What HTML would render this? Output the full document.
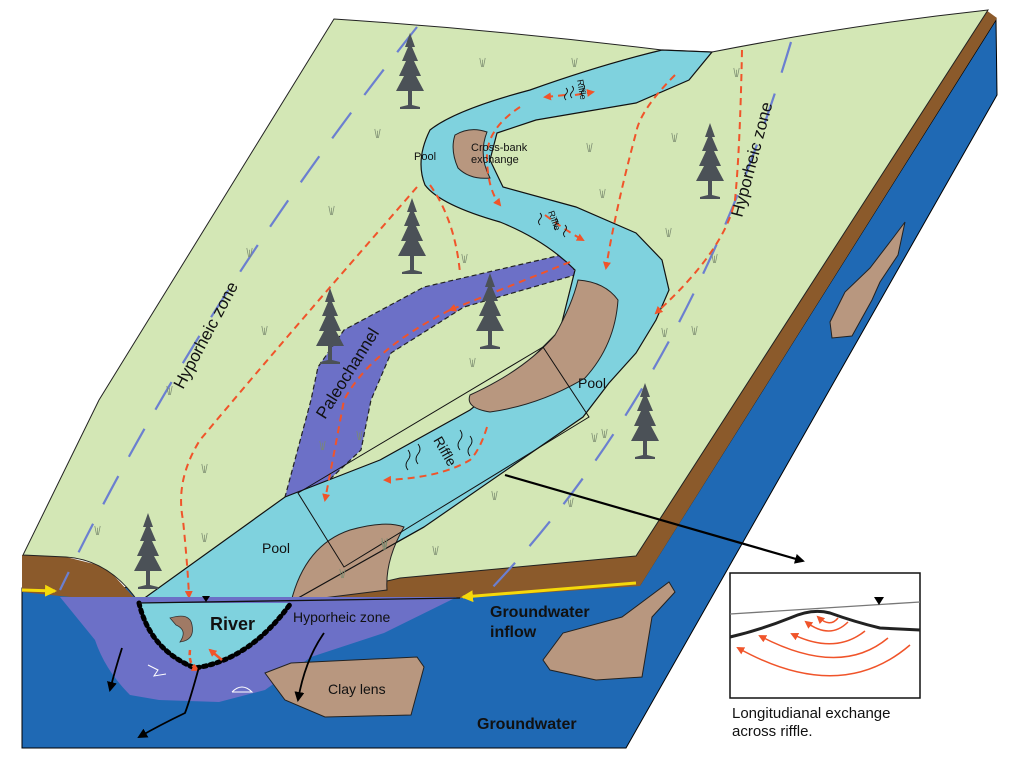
<!DOCTYPE html>
<html><head><meta charset="utf-8"><style>
html,body{margin:0;padding:0;background:#fff;}
svg{display:block;font-family:"Liberation Sans",sans-serif;}
</style></head><body>
<svg width="1024" height="762" viewBox="0 0 1024 762" xmlns="http://www.w3.org/2000/svg">
<defs>
<symbol id="tree" viewBox="0 0 40 80">
<path d="M20 0 L25 14 L22 14 L28 28 L24 28 L31 43 L26 43 L34 58 L22 58 L22 72 L30 74 L30 76 L10 76 L10 74 L18 72 L18 58 L6 58 L14 43 L9 43 L16 28 L12 28 L18 14 L15 14 Z" fill="#4b5157"/>
</symbol>
<symbol id="gr" viewBox="0 0 10 12">
<path d="M2 1 L4 11 M5 3 L5 11 M8 1 L6 11" stroke="#7a8a70" stroke-width="0.8" fill="none"/>
</symbol>
<marker id="ar" markerWidth="8" markerHeight="8" refX="6" refY="4" orient="auto" markerUnits="userSpaceOnUse"><path d="M0 0 L8 4 L0 8 Z" fill="#f0542a"/></marker>
<marker id="ab" markerWidth="10" markerHeight="10" refX="8" refY="5" orient="auto" markerUnits="userSpaceOnUse"><path d="M0 0 L10 5 L0 10 Z" fill="#000"/></marker>
<marker id="ay" markerWidth="12" markerHeight="12" refX="10" refY="6" orient="auto" markerUnits="userSpaceOnUse"><path d="M0 0 L12 6 L0 12 Z" fill="#f5d90a"/></marker>
</defs>

<!-- blue block -->
<path d="M22 588 L640 585 L996 20 L997 95 L626 748 L22 748 Z" fill="#1f69b4" stroke="#000" stroke-width="1"/>
<!-- brown strip right edge + front band -->
<path d="M986 10 L997 18 L640 586 L463 598 L291 603 L400 578 L636 556 Z" fill="#8b5a2b"/>
<!-- left brown hump -->
<path d="M22 555 L66 557 L106 567 L139 603 L60 596 L22 592 Z" fill="#8b5a2b"/>
<!-- green top -->
<path d="M334 19 Q500 30 662 50 L712 52 Q850 25 988 10 L636 556 L400 578 L291 603 L139 603 Q110 560 66 557 L23 555 L99 400 Z" fill="#d3e7b5" stroke="#222" stroke-width="1"/>
<!-- yellow lines -->
<line x1="636" y1="583" x2="463" y2="597" stroke="#f5d90a" stroke-width="3" marker-end="url(#ay)"/>
<line x1="22" y1="590" x2="55" y2="591" stroke="#f5d90a" stroke-width="3" marker-end="url(#ay)"/>

<!-- paleochannel -->
<path d="M570 253 L424 287 L344 330 L318 367 L311 400 L285 497 L311 497 L361 450 L371 400 L391 353 L464 307 L575 275 Z" fill="#6c70c7" stroke="#222" stroke-width="1.2" stroke-dasharray="5,3"/>

<!-- river -->
<path d="M662 50 Q600 65 530 90 Q455 110 430 130 Q415 160 425 185 Q440 205 500 222 Q545 240 575 270 L560 330 L520 370 L470 410 L380 460 L285 497 L139 602 L291 602 L424 527 L583 417 L609 383 L636 353 L656 320 L669 290 L662 260 L636 233 L576 207 L503 187 L490 160 L497 133 L536 120 L636 103 L689 80 L712 52 Z" fill="#7fd2de" stroke="#111" stroke-width="1.2"/>

<!-- bars -->
<path d="M455 135 Q470 126 487 132 Q478 155 490 178 Q470 180 458 168 Q450 150 455 135 Z" fill="#b8977f" stroke="#222"/>
<path d="M578 280 Q605 282 618 300 Q615 345 585 378 Q540 405 490 412 Q465 408 470 395 Q525 370 555 335 Q572 305 578 280 Z" fill="#b8977f" stroke="#222"/>
<path d="M291 602 Q305 545 350 530 Q385 520 404 527 Q385 560 387 590 Z" fill="#b8977f" stroke="#222"/>
<path d="M291 602 L424 527" stroke="#111" stroke-width="1.2"/>

<!-- blue dashed hyporheic boundaries -->
<path d="M417 27 Q200 300 60 590" stroke="#6b7fd0" stroke-width="2.2" fill="none" stroke-dasharray="32,22"/>
<path d="M791 42 Q690 380 490 590" stroke="#6b7fd0" stroke-width="2.2" fill="none" stroke-dasharray="32,22"/>

<!-- red dashed -->
<g stroke="#f0542a" stroke-width="2" fill="none" stroke-dasharray="7,5">
<path d="M742 50 Q740 150 735 200 Q725 250 656 313" marker-end="url(#ar)"/>
<path d="M675 75 Q640 110 636 133 Q616 207 606 268" marker-end="url(#ar)"/>
<path d="M565 95 L545 97" marker-end="url(#ar)"/>
<path d="M575 95 L593 92" marker-end="url(#ar)"/>
<path d="M520 107 Q485 130 487 160 Q488 190 500 205" marker-end="url(#ar)"/>
<path d="M545 215 Q565 230 583 240" marker-end="url(#ar)"/>
<path d="M430 185 Q455 220 460 273"/>
<path d="M417 187 Q371 240 325 293 Q250 380 200 440 Q175 480 183 520 Q188 570 189 597" marker-end="url(#ar)"/>
<path d="M570 262 L450 310" marker-end="url(#ar)"/>
<path d="M450 310 Q371 350 344 400 Q338 433 325 500" marker-end="url(#ar)"/>
<path d="M487 427 Q480 450 470 460 Q440 478 385 480" marker-end="url(#ar)"/>
</g>

<!-- riffle box and callout -->
<path d="M298 493 L543 347 L589 417 L344 567 Z" fill="none" stroke="#111" stroke-width="1"/>
<line x1="505" y1="475" x2="803" y2="561" stroke="#000" stroke-width="2.2" marker-end="url(#ab)"/>

<!-- riffle squiggles -->
<g stroke="#111" stroke-width="0.9" fill="none">
<path d="M566 88 q3 3 0 6 q-3 3 0 6 M572 86 q3 3 0 6 q-3 3 0 6 M583 84 q3 3 0 6 q-3 3 0 6"/>
<path d="M540 213 q3 3 0 6 q-3 3 0 6 M556 218 q3 3 0 6 q-3 3 0 6 M565 225 q3 3 0 6 q-3 3 0 6"/>
<path d="M408 450 q4 5 0 10 q-4 5 0 10 M418 444 q4 5 0 10 q-4 5 0 10 M460 430 q4 5 0 10 q-4 5 0 10 M470 436 q4 5 0 10 q-4 5 0 10"/>
</g>

<!-- trees -->
<use href="#tree" x="390" y="33" width="40" height="80"/>
<use href="#tree" x="392" y="198" width="40" height="80"/>
<use href="#tree" x="310" y="288" width="40" height="80"/>
<use href="#tree" x="470" y="273" width="40" height="80"/>
<use href="#tree" x="690" y="123" width="40" height="80"/>
<use href="#tree" x="625" y="383" width="40" height="80"/>
<use href="#tree" x="128" y="513" width="40" height="80"/>

<!-- grass -->
<g>
<use href="#gr" x="478" y="57" width="9" height="11"/><use href="#gr" x="570" y="57" width="9" height="11"/>
<use href="#gr" x="732" y="67" width="9" height="11"/><use href="#gr" x="373" y="128" width="9" height="11"/>
<use href="#gr" x="585" y="142" width="9" height="11"/><use href="#gr" x="670" y="132" width="9" height="11"/>
<use href="#gr" x="327" y="205" width="9" height="11"/><use href="#gr" x="598" y="188" width="9" height="11"/>
<use href="#gr" x="245" y="247" width="9" height="11"/><use href="#gr" x="460" y="253" width="9" height="11"/>
<use href="#gr" x="664" y="227" width="9" height="11"/><use href="#gr" x="710" y="253" width="9" height="11"/>
<use href="#gr" x="260" y="325" width="9" height="11"/><use href="#gr" x="468" y="357" width="9" height="11"/>
<use href="#gr" x="660" y="327" width="9" height="11"/><use href="#gr" x="690" y="325" width="9" height="11"/>
<use href="#gr" x="165" y="385" width="9" height="11"/><use href="#gr" x="590" y="432" width="9" height="11"/>
<use href="#gr" x="355" y="430" width="9" height="11"/><use href="#gr" x="318" y="440" width="9" height="11"/>
<use href="#gr" x="200" y="463" width="9" height="11"/><use href="#gr" x="600" y="428" width="9" height="11"/>
<use href="#gr" x="490" y="490" width="9" height="11"/><use href="#gr" x="566" y="497" width="9" height="11"/>
<use href="#gr" x="93" y="525" width="9" height="11"/><use href="#gr" x="200" y="532" width="9" height="11"/>
<use href="#gr" x="380" y="540" width="9" height="11"/><use href="#gr" x="431" y="545" width="9" height="11"/>
<use href="#gr" x="338" y="568" width="9" height="11"/><use href="#gr" x="380" y="537" width="9" height="11"/>
</g>

<!-- cross section hyporheic -->
<path d="M60 597 L457 597 L384 633 L311 657 L265 690 L219 702 L159 700 L130 695 Q105 670 95 640 Z" fill="#6c70c7"/>
<path d="M139 603 Q150 650 195 668 Q250 660 291 603 Z" fill="#7fd2de"/>
<path d="M139 603 Q150 650 195 668 Q250 660 291 603" fill="none" stroke="#000" stroke-width="5" stroke-dasharray="3,4" stroke-linecap="round"/>
<line x1="139" y1="603" x2="460" y2="598" stroke="#111" stroke-width="1.3"/>
<path d="M202 596 L210 596 L206 602 Z" fill="#000"/>
<!-- clay lenses -->
<path d="M265 673 L291 663 L417 657 L424 667 L411 715 L325 717 L285 700 Z" fill="#b8977f" stroke="#222"/>
<path d="M669 582 L675 592 L652 617 L642 677 L596 680 L550 670 L543 660 L563 633 L622 617 Z" fill="#b8977f" stroke="#222"/>
<path d="M905 222 L898 255 L880 282 L872 300 L852 336 L832 338 L830 322 L845 292 L870 268 L893 238 Z" fill="#b8977f" stroke="#222"/>
<!-- fish -->
<path d="M170 618 Q190 612 192 625 Q195 640 180 642 Q188 630 176 625 Z" fill="#a07a65" stroke="#333" stroke-width="0.8"/>
<!-- red curved arrows in section -->
<path d="M190 650 Q188 665 198 670" stroke="#f0542a" stroke-width="2.5" fill="none" stroke-dasharray="5,3" marker-end="url(#ar)"/>
<path d="M222 660 L210 650" stroke="#f0542a" stroke-width="2.5" fill="none" marker-end="url(#ar)"/>
<!-- black arrows -->
<g stroke="#000" stroke-width="1.8" fill="none">
<path d="M122 648 Q115 670 110 690" marker-end="url(#ab)"/>
<path d="M199 667 Q190 700 185 713 Q160 725 139 737" marker-end="url(#ab)"/>
<path d="M324 633 Q305 660 298 700" marker-end="url(#ab)"/>
</g>
<!-- critters -->
<path d="M148 665 l10 5 l-4 6 l12 -2 M232 692 q10 -10 20 0 l-20 0" stroke="#fff" stroke-width="1" fill="none"/>

<!-- inset -->
<rect x="730" y="573" width="190" height="125" fill="#fff" stroke="#111" stroke-width="1.5"/>
<line x1="730" y1="614" x2="920" y2="602" stroke="#777" stroke-width="1.3"/>
<path d="M874 597 L884 597 L879 605 Z" fill="#000"/>
<path d="M730 637 Q760 630 790 618 Q812 608 830 613 Q855 622 880 628 L920 630" stroke="#222" stroke-width="3" fill="none"/>
<g stroke="#f0542a" stroke-width="1.5" fill="none">
<path d="M838 618 Q830 628 818 617" marker-end="url(#ar)"/>
<path d="M848 622 Q830 640 806 622" marker-end="url(#ar)"/>
<path d="M865 631 Q835 655 792 634" marker-end="url(#ar)"/>
<path d="M888 638 Q840 678 760 636" marker-end="url(#ar)"/>
<path d="M910 645 Q840 705 738 648" marker-end="url(#ar)"/>
</g>
<text x="732" y="718" font-size="15" fill="#111">Longitudianal exchange</text>
<text x="732" y="736" font-size="15" fill="#111">across riffle.</text>

<!-- labels -->
<g fill="#111">
<text transform="translate(183,390) rotate(-62)" font-size="17">Hyporheic zone</text>
<text transform="translate(742,218) rotate(-75)" font-size="17">Hyporheic zone</text>
<text transform="translate(325,420) rotate(-58)" font-size="17">Paleochannel</text>
<text x="414" y="160" font-size="11">Pool</text>
<text x="471" y="151" font-size="11">Cross-bank</text>
<text x="471" y="163" font-size="11">exchange</text>
<text transform="translate(577,80) rotate(80)" font-size="9">Riffle</text>
<text transform="translate(548,212) rotate(70)" font-size="9">Riffle</text>
<text x="578" y="388" font-size="14">Pool</text>
<text transform="translate(433,440) rotate(60)" font-size="14">Riffle</text>
<text x="262" y="553" font-size="14">Pool</text>
<text x="210" y="630" font-size="18" font-weight="bold">River</text>
<text x="293" y="622" font-size="14">Hyporheic zone</text>
<text x="490" y="617" font-size="16" font-weight="bold">Groundwater</text>
<text x="490" y="637" font-size="16" font-weight="bold">inflow</text>
<text x="328" y="694" font-size="14">Clay lens</text>
<text x="477" y="729" font-size="16" font-weight="bold">Groundwater</text>
</g>
</svg>
</body></html>
